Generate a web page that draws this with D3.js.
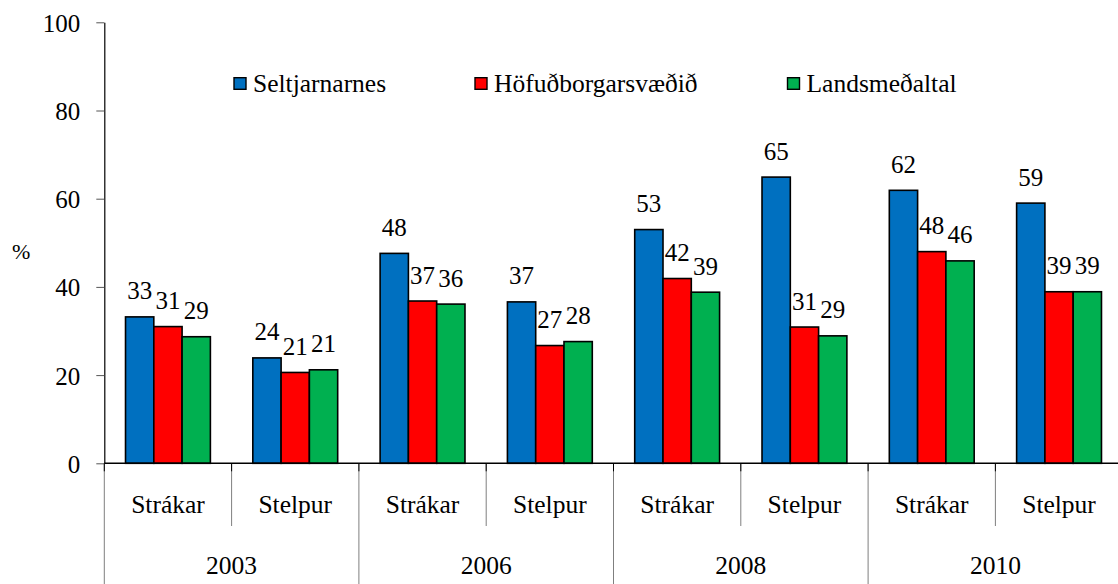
<!DOCTYPE html>
<html>
<head>
<meta charset="utf-8">
<script src="https://cdn.jsdelivr.net/npm/d3@7"></script>
<style>
  html, body { margin: 0; padding: 0; background: #fff; }
  svg { display: block; }
  svg text { font-family: "Liberation Serif", "Times New Roman", Tinos, "DejaVu Serif", serif; }
</style>
</head>
<body>
<svg id="chart" width="1118" height="584"></svg>
<script>
// Survey share (%) by year and gender, three areas compared
const years = ["2003", "2006", "2008", "2010"];
const genders = ["Strákar", "Stelpur"];
const seriesNames = ["Seltjarnarnes", "Höfuðborgarsvæðið", "Landsmeðaltal"];
const seriesColors = ["#0070C0", "#FF0000", "#00B050"];

const seltjarnarnes = [33.2, 23.9, 47.6, 36.6, 53.0, 64.9, 61.9, 59.0];
const hofudborgarsvaedid = [31.0, 20.6, 36.8, 26.7, 41.9, 30.9, 48.0, 38.9];
const landsmedaltal = [28.7, 21.2, 36.1, 27.6, 38.8, 28.9, 45.9, 38.9];

const yTicks = [0, 20, 40, 60, 80, 100];

(function drawChart() {
  const serifFont = '"Liberation Serif", "Times New Roman", Tinos, "DejaVu Serif", serif';
  const seriesValues = [seltjarnarnes, hofudborgarsvaedid, landsmedaltal];
  const categories = [];
  years.forEach(yr => genders.forEach(g => categories.push({ key: yr + "|" + g, year: yr, gender: g })));

  const svg = d3.select("#chart");
  const plotLeft = 104.3, plotTop = 22.3, plotBottom = 463.3, catWidth = 127.3;
  const plotRight = plotLeft + catWidth * categories.length;

  const x0 = d3.scaleBand().domain(categories.map(c => c.key)).range([plotLeft, plotRight]).paddingInner(0).paddingOuter(0);
  const x1 = d3.scaleBand().domain(d3.range(seriesNames.length)).range([0, x0.bandwidth()]).paddingInner(0).paddingOuter(0.75);
  const y = d3.scaleLinear().domain([0, 100]).range([plotBottom, plotTop]);

  const fontSize = 25;
  const labelSize = 25.5;
  const fmt = d3.format(".0f");

  // Bars
  const groups = svg.append("g").selectAll("g")
    .data(categories)
    .join("g")
    .attr("transform", c => `translate(${x0(c.key)},0)`);

  const cells = (c, ci) => seriesValues.map((vals, si) => ({ si, v: vals[ci] }));

  groups.selectAll("rect")
    .data(cells)
    .join("rect")
    .attr("x", d => x1(d.si))
    .attr("y", d => y(d.v))
    .attr("width", x1.bandwidth())
    .attr("height", d => y(0) - y(d.v))
    .attr("fill", d => seriesColors[d.si])
    .attr("stroke", "#000")
    .attr("stroke-width", 1.6);

  // Value labels
  groups.selectAll("text.val")
    .data(cells)
    .join("text")
    .attr("class", "val")
    .attr("x", d => x1(d.si) + x1.bandwidth() / 2)
    .attr("y", d => y(d.v) - 17.5)
    .attr("text-anchor", "middle")
    .attr("font-size", fontSize)
    .attr("fill", "#000")
    .text(d => fmt(d.v));

  // Y axis
  const yAxis = d3.axisLeft(y).tickValues(yTicks).tickSize(8).tickSizeOuter(0).tickPadding(16);
  const yg = svg.append("g").attr("transform", `translate(${plotLeft},0)`).call(yAxis);
  yg.attr("font-family", serifFont).attr("font-size", fontSize);
  yg.select(".domain").attr("stroke", "#000").attr("stroke-width", 1.2);
  yg.selectAll(".tick line").attr("stroke", "#555");
  yg.selectAll(".tick text")
    .attr("fill", "#000")
    .attr("dy", "0.36em");

  // Category separators below the baseline
  const boundaries = d3.range(categories.length + 1).map(i => ({
    i, x: i < categories.length ? x0(categories[i].key) : plotRight
  }));
  svg.append("g").selectAll("line")
    .data(boundaries)
    .join("line")
    .attr("x1", d => d.x).attr("x2", d => d.x)
    .attr("y1", plotBottom).attr("y2", d => d.i % 2 === 0 ? 584 : 526)
    .attr("stroke", "#7f7f7f").attr("stroke-width", 1);
  svg.append("g").selectAll("line")
    .data(boundaries)
    .join("line")
    .attr("x1", d => d.x).attr("x2", d => d.x)
    .attr("y1", plotBottom).attr("y2", plotBottom + 8)
    .attr("stroke", "#000").attr("stroke-width", 1);

  // Baseline
  svg.append("line")
    .attr("x1", plotLeft).attr("x2", plotRight)
    .attr("y1", plotBottom).attr("y2", plotBottom)
    .attr("stroke", "#000").attr("stroke-width", 1.4);

  // Gender labels
  svg.append("g").selectAll("text")
    .data(categories)
    .join("text")
    .attr("x", c => x0(c.key) + x0.bandwidth() / 2)
    .attr("y", 512.7)
    .attr("text-anchor", "middle")
    .attr("font-size", labelSize)
    .text(c => c.gender);

  // Year labels
  svg.append("g").selectAll("text")
    .data(years)
    .join("text")
    .attr("x", yr => x0(yr + "|" + genders[0]) + x0.bandwidth())
    .attr("y", 574)
    .attr("text-anchor", "middle")
    .attr("font-size", labelSize)
    .text(yr => yr);

  // Axis unit
  svg.append("text")
    .attr("x", 12)
    .attr("y", 259)
    .attr("font-size", 22)
    .text("%");

  // Legend
  const legendX = [234, 475, 787.5];
  const legend = svg.append("g").selectAll("g")
    .data(seriesNames)
    .join("g")
    .attr("transform", (d, i) => `translate(${legendX[i]},0)`);
  legend.append("rect")
    .attr("x", 0).attr("y", 77.7)
    .attr("width", 12).attr("height", 11.6)
    .attr("fill", (d, i) => seriesColors[i])
    .attr("stroke", "#000").attr("stroke-width", 1.4);
  legend.append("text")
    .attr("x", 19).attr("y", 91.5)
    .attr("font-size", 25.5)
    .text(d => d);

  svg.selectAll("text").attr("font-family", serifFont);
})();
</script>
</body>
</html>
